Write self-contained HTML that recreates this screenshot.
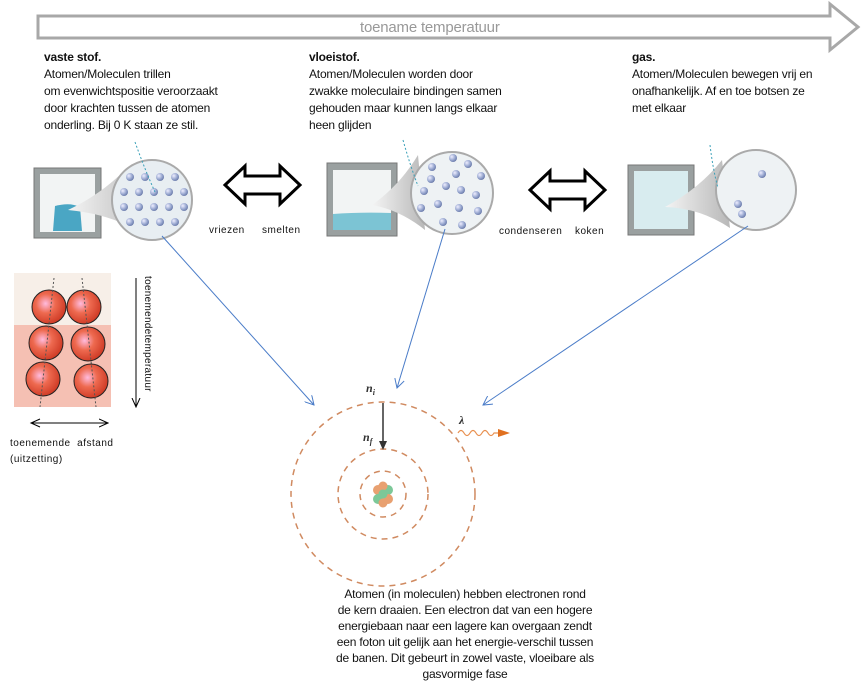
<!DOCTYPE html>
<html><head><meta charset="utf-8"><style>
body{margin:0;width:862px;height:691px;background:#fff;position:relative;overflow:hidden;font-family:"Liberation Sans",sans-serif;}
.t{position:absolute;font-size:12px;line-height:17px;color:#111;letter-spacing:-0.2px;white-space:nowrap}
.s{position:absolute;font-size:10px;color:#111;letter-spacing:0.5px;white-space:nowrap}
</style></head><body>
<svg width="862" height="691" style="position:absolute;left:0;top:0">
<defs>
<radialGradient id="ball" cx="0.35" cy="0.35" r="0.7"><stop offset="0" stop-color="#eef"/><stop offset="0.6" stop-color="#99a8d0"/><stop offset="1" stop-color="#6878a8"/></radialGradient>
<radialGradient id="red" cx="0.4" cy="0.4" r="0.7"><stop offset="0" stop-color="#fbd"/><stop offset="0.4" stop-color="#ee6a50"/><stop offset="1" stop-color="#c8301c"/></radialGradient>
<linearGradient id="cone" x1="0" x2="1"><stop offset="0" stop-color="#f4f4f4"/><stop offset="1" stop-color="#b8b8b8"/></linearGradient>
<marker id="ab" markerWidth="10" markerHeight="10" refX="9" refY="5" orient="auto"><path d="M0,0 L9,5 L0,10" fill="none" stroke="#4a7cc8" stroke-width="1"/></marker>
<marker id="ak" markerWidth="10" markerHeight="10" refX="9" refY="5" orient="auto"><path d="M0,1 L9,5 L0,9" fill="none" stroke="#000" stroke-width="1"/></marker>
</defs>
<path d="M38,16 L830,16 L830,4 L858,27 L830,50 L830,38 L38,38 Z" fill="#fff" stroke="#a8a8a8" stroke-width="3"/>
<!-- solid -->
<rect x="34" y="168" width="67" height="70" fill="#9aa0a0" stroke="#777"/>
<rect x="40" y="174" width="55" height="58" fill="#f2f4f4"/>
<path d="M55,206 Q70,202 80,207 L82,231 L53,231 Z" fill="#4aa6c4"/>
<path d="M68,210 Q100,195 125,170 L150,240 Q120,215 68,210Z" fill="url(#cone)"/>
<circle cx="152" cy="200" r="40" fill="#e8eef2" stroke="#aaa" stroke-width="2"/>
<g fill="url(#ball)">
<circle cx="130" cy="177" r="4"/><circle cx="145" cy="177" r="4"/><circle cx="160" cy="177" r="4"/><circle cx="175" cy="177" r="4"/>
<circle cx="124" cy="192" r="4"/><circle cx="139" cy="192" r="4"/><circle cx="154" cy="192" r="4"/><circle cx="169" cy="192" r="4"/><circle cx="184" cy="192" r="4"/>
<circle cx="124" cy="207" r="4"/><circle cx="139" cy="207" r="4"/><circle cx="154" cy="207" r="4"/><circle cx="169" cy="207" r="4"/><circle cx="184" cy="207" r="4"/>
<circle cx="130" cy="222" r="4"/><circle cx="145" cy="222" r="4"/><circle cx="160" cy="222" r="4"/><circle cx="175" cy="222" r="4"/>
</g>
<path d="M135,142 Q145,170 155,192" fill="none" stroke="#3aa0b8" stroke-dasharray="2,2"/>
<!-- liquid -->
<rect x="327" y="163" width="70" height="73" fill="#9aa0a0" stroke="#777"/>
<rect x="333" y="170" width="58" height="60" fill="#f2f4f4"/>
<path d="M333,214 Q360,212 391,213 L391,230 L333,230Z" fill="#7cc4d4"/>
<path d="M372,205 Q400,185 418,155 L425,230 Q400,210 372,205Z" fill="url(#cone)"/>
<circle cx="452" cy="193" r="41" fill="#eef2f4" stroke="#aaa" stroke-width="2"/>
<g fill="url(#ball)">
<circle cx="453" cy="158" r="4"/><circle cx="468" cy="164" r="4"/><circle cx="432" cy="167" r="4"/><circle cx="456" cy="174" r="4"/><circle cx="481" cy="176" r="4"/><circle cx="431" cy="179" r="4"/><circle cx="424" cy="191" r="4"/><circle cx="446" cy="186" r="4"/><circle cx="461" cy="190" r="4"/><circle cx="476" cy="195" r="4"/><circle cx="421" cy="208" r="4"/><circle cx="438" cy="204" r="4"/><circle cx="459" cy="208" r="4"/><circle cx="478" cy="211" r="4"/><circle cx="443" cy="222" r="4"/><circle cx="462" cy="225" r="4"/>
</g>
<path d="M403,140 Q410,165 418,186" fill="none" stroke="#3aa0b8" stroke-dasharray="2,2"/>
<!-- gas -->
<rect x="628" y="165" width="66" height="70" fill="#9aa0a0" stroke="#777"/>
<rect x="634" y="171" width="54" height="58" fill="#d8ecef"/>
<path d="M665,207 Q700,188 722,160 L730,228 Q700,208 665,207Z" fill="url(#cone)"/>
<circle cx="756" cy="190" r="40" fill="#eef2f4" stroke="#aaa" stroke-width="2"/>
<g fill="url(#ball)"><circle cx="762" cy="174" r="4"/><circle cx="738" cy="204" r="4"/><circle cx="742" cy="214" r="4"/></g>
<path d="M710,145 Q713,170 718,188" fill="none" stroke="#3aa0b8" stroke-dasharray="2,2"/>
<!-- double arrows -->
<path d="M225,185 L245,166 L245,176 L280,176 L280,166 L300,185 L280,204 L280,194 L245,194 L245,204 Z" fill="#fff" stroke="#000" stroke-width="3"/>
<path d="M530,190 L550,171 L550,181 L585,181 L585,171 L605,190 L585,209 L585,199 L550,199 L550,209 Z" fill="#fff" stroke="#000" stroke-width="3"/>
<line x1="162" y1="236" x2="314" y2="405" stroke="#4a7cc8" marker-end="url(#ab)"/>
<line x1="445" y1="229" x2="397" y2="388" stroke="#4a7cc8" marker-end="url(#ab)"/>
<line x1="748" y1="226" x2="483" y2="405" stroke="#4a7cc8" marker-end="url(#ab)"/>
<!-- red spheres -->
<rect x="14" y="273" width="97" height="134" fill="#f7efe8"/>
<rect x="14" y="325" width="97" height="82" fill="#f3a090" opacity="0.6"/>
<g fill="url(#red)" stroke="#222" stroke-width="1">
<circle cx="49" cy="307" r="17"/><circle cx="84" cy="307" r="17"/>
<circle cx="46" cy="343" r="17"/><circle cx="88" cy="344" r="17"/>
<circle cx="43" cy="379" r="17"/><circle cx="91" cy="381" r="17"/>
</g>
<g stroke="#555" stroke-dasharray="2,2"><line x1="54" y1="278" x2="40" y2="407"/><line x1="82" y1="278" x2="96" y2="407"/></g>
<line x1="136" y1="278" x2="136" y2="407" stroke="#000" marker-end="url(#ak)"/>
<line x1="31" y1="423" x2="108" y2="423" stroke="#000" marker-end="url(#ak)"/>
<path d="M40,419 L31,423 L40,427" fill="none" stroke="#000"/>
<!-- atom -->
<g fill="none" stroke="#d08a60" stroke-width="1.5" stroke-dasharray="6,5">
<circle cx="383" cy="494" r="92"/><circle cx="383" cy="494" r="45"/><circle cx="383" cy="494" r="23"/>
</g>
<line x1="383" y1="403" x2="383" y2="446" stroke="#333" stroke-width="1.5"/>
<path d="M379,441 L383,450 L387,441Z" fill="#333"/>
<g><circle cx="378" cy="490" r="5" fill="#e8a070"/><circle cx="388" cy="490" r="5" fill="#7cc898"/><circle cx="378" cy="499" r="5" fill="#7cc898"/><circle cx="388" cy="499" r="5" fill="#e8a070"/><circle cx="383" cy="486" r="4.5" fill="#e8a070"/><circle cx="383" cy="503" r="4.5" fill="#e8a070"/><circle cx="383" cy="494" r="4.5" fill="#7cc898"/></g>
<path d="M458,433 Q461,428 464,433 Q467,438 470,433 Q473,428 476,433 Q479,438 482,433 Q485,428 488,433 Q491,438 494,433 L500,433" fill="none" stroke="#e89050" stroke-width="1.2"/>
<path d="M498,429 L510,433 L498,437Z" fill="#e07020"/>
<text x="366" y="392" font-family="Liberation Serif" font-style="italic" font-weight="bold" font-size="12" fill="#333">n<tspan font-size="8" dy="3">i</tspan></text>
<text x="363" y="441" font-family="Liberation Serif" font-style="italic" font-weight="bold" font-size="12" fill="#333">n<tspan font-size="8" dy="3">f</tspan></text>
<text x="459" y="424" font-family="Liberation Serif" font-style="italic" font-weight="bold" font-size="12" fill="#333">λ</text>
<text x="145" y="276" font-size="10" letter-spacing="0.3" transform="rotate(90 145 276)" fill="#111">toenemendetemperatuur</text>
</svg>
<div class="t" style="left:360px;top:19px;font-size:15px;color:#999;">toename temperatuur</div>
<div class="t" style="left:44px;top:49px"><b>vaste stof.</b><br>Atomen/Moleculen trillen<br>om evenwichtspositie veroorzaakt<br>door krachten tussen de atomen<br>onderling. Bij 0 K staan ze stil.</div>
<div class="t" style="left:309px;top:49px"><b>vloeistof.</b><br>Atomen/Moleculen worden door<br>zwakke moleculaire bindingen samen<br>gehouden maar kunnen langs elkaar<br>heen glijden</div>
<div class="t" style="left:632px;top:49px"><b>gas.</b><br>Atomen/Moleculen bewegen vrij en<br>onafhankelijk. Af en toe botsen ze<br>met elkaar</div>
<div class="s" style="left:209px;top:225px">vriezen</div>
<div class="s" style="left:262px;top:225px">smelten</div>
<div class="s" style="left:499px;top:226px">condenseren</div>
<div class="s" style="left:575px;top:226px">koken</div>
<div class="s" style="left:10px;top:436px;line-height:16px">toenemende&nbsp; afstand<br>(uitzetting)</div>
<div class="t" style="left:265px;top:586px;width:400px;text-align:center;white-space:normal;line-height:16px">Atomen (in moleculen) hebben electronen rond<br>de kern draaien. Een electron dat van een hogere<br>energiebaan naar een lagere kan overgaan zendt<br>een foton uit gelijk aan het energie-verschil tussen<br>de banen. Dit gebeurt in zowel vaste, vloeibare als<br>gasvormige fase</div>
</body></html>
